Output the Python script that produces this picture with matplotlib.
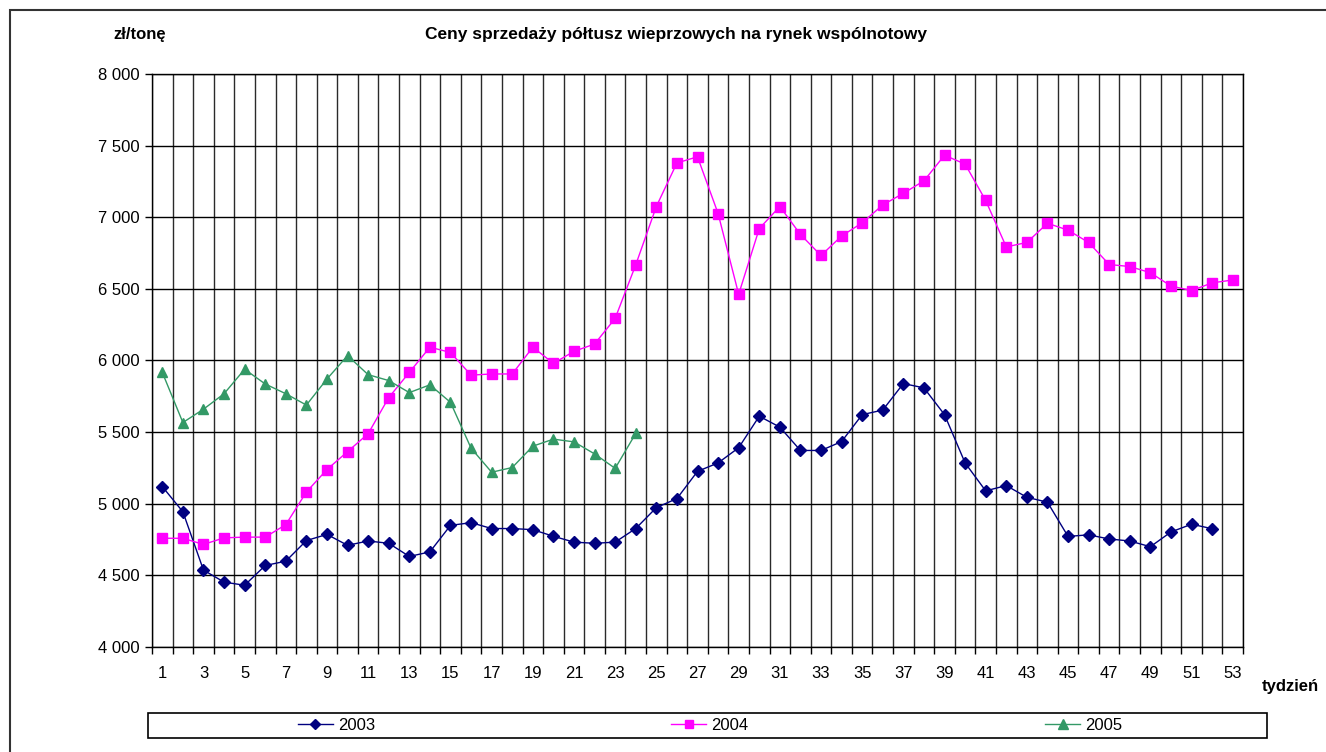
import matplotlib
matplotlib.use("Agg")
import matplotlib.pyplot as plt
from matplotlib.patches import Rectangle
from matplotlib.ticker import FuncFormatter, MultipleLocator, FixedLocator

plt.rcParams['font.family'] = ['Liberation Sans', 'DejaVu Sans']

weeks = list(range(1, 54))

y2003 = [5120, 4944, 4537, 4453, 4431, 4569, 4599, 4743, 4786, 4710,
         4740, 4724, 4632, 4664, 4849, 4868, 4827, 4827, 4819, 4773,
         4732, 4724, 4732, 4827, 4973, 5036, 5226, 5285, 5391, 5611,
         5535, 5372, 5372, 5434, 5622, 5654, 5839, 5809, 5622, 5285,
         5090, 5127, 5045, 5011, 4772, 4783, 4754, 4740, 4700, 4803,
         4857, 4826]

y2004 = [4759, 4759, 4716, 4762, 4767, 4767, 4854, 5082, 5239, 5364,
         5489, 5741, 5917, 6093, 6056, 5898, 5906, 5906, 6093, 5980,
         6064, 6115, 6294, 6668, 7075, 7379, 7422, 7026, 6462, 6921,
         7075, 6880, 6733, 6869, 6961, 7086, 7167, 7254, 7433, 7371,
         7117, 6793, 6824, 6958, 6910, 6824, 6670, 6656, 6613, 6520,
         6488, 6542, 6562]

y2005 = [5917, 5567, 5660, 5768, 5939, 5836, 5768, 5689, 5871, 6034,
         5901, 5860, 5776, 5830, 5708, 5388, 5220, 5253, 5402, 5451,
         5432, 5348, 5247, 5491]

series_labels = ['2003', '2004', '2005']
title = 'Ceny sprzedaży półtusz wieprzowych na rynek wspólnotowy'
y_label = 'zł/tonę'
x_label = 'tydzień'

W, H = 1326, 752
fig = plt.figure(figsize=(W / 100, H / 100), dpi=100)
ax = fig.add_axes([152 / W, 1 - 647 / H, (1243 - 152) / W, (647 - 74) / H])

ax.plot(weeks[:len(y2003)], y2003, color='#000080', marker='D', markersize=6,
        linewidth=1.0, label=series_labels[0], zorder=3)
ax.plot(weeks[:len(y2004)], y2004, color='#FF00FF', marker='s', markersize=6.5,
        linewidth=1.0, label=series_labels[1], zorder=3)
ax.plot(weeks[:len(y2005)], y2005, color='#339966', marker='^', markersize=7.5,
        linewidth=1.0, label=series_labels[2], zorder=3)

ax.set_xlim(0.5, 53.5)
ax.set_ylim(4000, 8000)

ax.yaxis.set_major_locator(MultipleLocator(500))
ax.yaxis.set_major_formatter(FuncFormatter(lambda v, p: f"{int(v):,}".replace(',', ' ')))
ax.xaxis.set_major_locator(FixedLocator(list(range(1, 54, 2))))
ax.xaxis.set_minor_locator(FixedLocator([w + 0.5 for w in range(0, 54)]))

ax.tick_params(axis='x', which='major', length=0, pad=14, labelsize=12)
ax.tick_params(axis='x', which='minor', length=5, width=1, direction='out', color='black')
ax.tick_params(axis='y', which='major', length=5, width=1, direction='out', pad=4, labelsize=12)

ax.grid(True, axis='y', which='major', color='black', linewidth=1.0)
ax.grid(True, axis='x', which='minor', color='#2a2a2a', linewidth=1.0)
ax.grid(False, axis='x', which='major')
ax.set_axisbelow(True)
for s in ax.spines.values():
    s.set_color('black')
    s.set_linewidth(1.0)

fig.text(676 / W, 1 - 35 / H, title, ha='center', va='center', fontsize=12.5, fontweight='bold')
fig.text(140 / W, 1 - 35 / H, y_label, ha='center', va='center', fontsize=12, fontweight='bold')
fig.text(1290 / W, 1 - 686 / H, x_label, ha='center', va='center', fontsize=12, fontweight='bold')

# outer chart border
fig.patches.append(Rectangle((10 / W, -0.1), 1.2, 1 - 10 / H + 0.1, transform=fig.transFigure,
                             fill=False, edgecolor='#333333', linewidth=1.5))
# legend box
fig.patches.append(Rectangle((148 / W, 1 - 738 / H), (1267 - 148) / W, 25 / H, transform=fig.transFigure,
                             fill=False, edgecolor='black', linewidth=1.2))

handles, labels = ax.get_legend_handles_labels()
fig.legend(handles, labels, loc='center', bbox_to_anchor=(710 / W, 1 - 725.5 / H), ncol=3,
           frameon=False, fontsize=12, handlelength=2.1, handletextpad=0.3,
           columnspacing=17.8, borderaxespad=0, markerscale=0.9)

fig.savefig('out.png', dpi=100)
